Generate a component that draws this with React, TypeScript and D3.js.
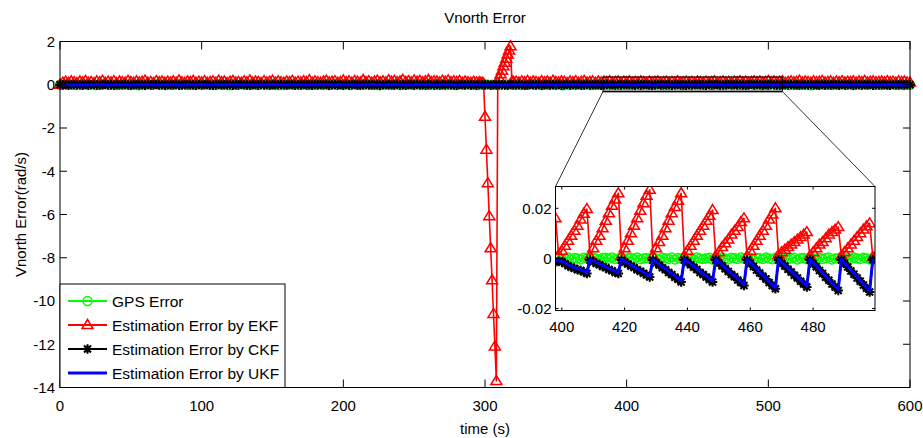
import React, { useEffect, useRef } from "react";
import * as d3 from "d3";

// ---- data ----
const mainTime = d3.range(0, 601, 5);
const ckfTime = d3.range(0, 601, 2);

const gpsMain = [
  0.0, 0.01, -0.01, 0.01, 0.0, -0.01, 0.02, 0.0, -0.01, 0.01,
  0.0, -0.02, 0.01, 0.0, 0.01, -0.01, 0.0, 0.02, -0.01, 0.0,
  0.01, 0.0, -0.01, 0.01, -0.02, 0.0, 0.01, 0.0, -0.01, 0.02,
  0.0, -0.01, 0.01, 0.0, 0.0, -0.01, 0.01, 0.02, -0.01, 0.0,
  0.01, -0.01, 0.0, 0.01, 0.0, -0.02, 0.01, 0.0, -0.01, 0.01,
  0.0, 0.01, -0.01, 0.0, 0.02, 0.0, -0.01, 0.01, 0.0, -0.01,
  0.01, 0.0, -0.01, 0.02, 0.0, -0.01, 0.0, 0.01, -0.01, 0.0,
  0.01, -0.02, 0.0, 0.01, 0.0, -0.01, 0.01, 0.0, 0.02, -0.01,
  0.0, 0.01, -0.01, 0.0, 0.01, 0.0, -0.01, 0.01, -0.02, 0.0,
  0.01, 0.0, -0.01, 0.01, 0.0, 0.02, -0.01, 0.0, 0.01, -0.01,
  0.0, 0.01, 0.0, -0.01, 0.01, 0.0, -0.02, 0.01, 0.0, -0.01,
  0.01, 0.0, -0.01, 0.0, 0.02, 0.0, -0.01, 0.01, 0.0, -0.01,
  0.0,
];

// CKF, t = 0..600 every 2 s
const ckfMain = [
  0.0, -0.01, 0.01, -0.02, 0.0, 0.01, -0.01, 0.0, -0.02, 0.01,
  -0.01, 0.0, 0.01, -0.01, -0.02, 0.0, 0.01, -0.01, 0.0, -0.02,
  0.01, -0.01, 0.0, 0.01, -0.01, -0.02, 0.0, 0.01, -0.01, 0.0,
  -0.02, 0.01, -0.01, 0.0, 0.01, -0.01, 0.0, -0.02, 0.01, -0.01,
  0.0, 0.01, -0.02, -0.01, 0.0, 0.01, -0.01, 0.0, -0.02, 0.01,
  -0.01, 0.0, 0.01, -0.01, -0.02, 0.0, 0.01, -0.01, 0.0, -0.01,
  0.01, -0.02, 0.0, -0.01, 0.01, 0.0, -0.01, -0.02, 0.01, 0.0,
  -0.01, 0.01, -0.01, 0.0, -0.02, 0.01, -0.01, 0.0, 0.01, -0.01,
  -0.01, 0.0, 0.01, -0.02, 0.0, -0.01, 0.01, -0.01, 0.0, -0.02,
  0.01, -0.01, 0.0, -0.01, 0.01, -0.02, 0.0, 0.01, -0.01, 0.0,
  -0.02, 0.01, -0.01, 0.0, 0.01, -0.01, -0.02, 0.0, 0.01, -0.01,
  0.0, -0.01, 0.01, -0.02, 0.0, 0.01, -0.01, 0.0, -0.01, 0.01,
  -0.01, 0.0, -0.02, 0.01, 0.0, -0.01, 0.01, -0.01, 0.0, -0.02,
  0.01, 0.0, -0.01, 0.01, -0.02, 0.0, -0.01, 0.01, 0.0, -0.01,
  -0.02, 0.01, 0.0, -0.01, 0.01, -0.01, 0.0, -0.02, 0.01, 0.0,
  -0.01, 0.01, -0.02, 0.0, -0.01, 0.01, 0.0, -0.01, -0.02, 0.01,
  0.0, -0.01, 0.01, 0.0, -0.02, -0.01, 0.01, 0.0, -0.01, 0.01,
  -0.02, 0.0, 0.01, -0.01, 0.0, -0.01, 0.01, -0.02, 0.0, 0.01,
  -0.01, 0.0, -0.01, 0.01, -0.02, 0.0, 0.01, -0.01, 0.0, -0.01,
  0.01, -0.02, 0.0, 0.01, -0.01, 0.0, -0.02, 0.01, -0.01, 0.0,
  0.01, -0.01, 0.0, -0.02, 0.01, -0.01, 0.0, 0.01, -0.01, -0.02,
  0.0, 0.01, -0.01, 0.0, -0.01, 0.01, -0.02, 0.0, 0.01, -0.01,
  0.0, -0.02, 0.01, -0.01, 0.0, 0.01, -0.01, 0.0, -0.02, 0.01,
  -0.01, 0.0, 0.01, -0.02, -0.01, 0.0, 0.01, -0.01, 0.0, -0.01,
  0.01, -0.01, -0.02, 0.0, 0.01, -0.01, 0.0, 0.01, -0.02, 0.0,
  -0.01, 0.01, 0.0, -0.01, -0.02, 0.01, 0.0, -0.01, 0.01, -0.01,
  0.0, -0.02, 0.01, 0.0, -0.01, 0.01, -0.01, 0.0, -0.02, 0.01,
  -0.01, 0.0, -0.01, 0.01, 0.0, -0.02, 0.01, -0.01, 0.0, 0.01,
  -0.02, 0.0, 0.01, -0.01, 0.0, -0.01, 0.01, -0.02, 0.0, -0.01,
  0.01, 0.0, -0.01, -0.02, 0.01, 0.0, -0.01, 0.01, -0.01, 0.0,
  0.0,
];

const ukfMain = [
  0.0, 0.0, -0.01, 0.0, -0.01, 0.01, 0.0, -0.01, 0.0, 0.0,
  -0.01, 0.0, 0.01, 0.0, -0.01, 0.0, 0.0, -0.01, 0.01, 0.0,
  0.0, -0.01, 0.0, 0.0, 0.01, -0.01, 0.0, 0.0, -0.01, 0.0,
  0.01, 0.0, -0.01, 0.0, 0.0, -0.01, 0.0, 0.01, 0.0, -0.01,
  0.0, 0.0, -0.01, 0.0, 0.01, 0.0, -0.01, 0.0, 0.0, -0.01,
  0.0, 0.01, 0.0, -0.01, 0.0, 0.0, -0.01, 0.0, 0.01, 0.0,
  -0.01, 0.0, 0.0, -0.01, 0.0, 0.01, 0.0, -0.01, 0.0, 0.0,
  -0.01, 0.0, 0.01, 0.0, -0.01, 0.0, 0.0, -0.01, 0.0, 0.01,
  0.0, -0.01, 0.0, 0.0, -0.01, 0.01, 0.0, -0.01, 0.0, 0.0,
  -0.01, 0.0, 0.01, 0.0, -0.01, 0.0, 0.0, -0.01, 0.01, 0.0,
  0.0, -0.01, 0.0, 0.0, 0.01, -0.01, 0.0, 0.0, -0.01, 0.0,
  0.01, 0.0, -0.01, 0.0, 0.0, -0.01, 0.0, 0.01, 0.0, -0.01,
  0.0,
];

// EKF, t = 0..294 every 2 s
const ekfBefore = [
  0.0, 0.1, 0.14, 0.09, 0.16, 0.12, 0.08, 0.15, 0.11, 0.18,
  0.1, 0.13, 0.07, 0.16, 0.12, 0.19, 0.09, 0.14, 0.11, 0.17,
  0.08, 0.15, 0.12, 0.1, 0.18, 0.13, 0.09, 0.16, 0.11, 0.14,
  0.19, 0.1, 0.13, 0.08, 0.17, 0.12, 0.15, 0.09, 0.14, 0.11,
  0.16, 0.1, 0.2, 0.12, 0.08, 0.15, 0.13, 0.18, 0.1, 0.14,
  0.11, 0.17, 0.09, 0.13, 0.16, 0.1, 0.19, 0.12, 0.15, 0.08,
  0.14, 0.18, 0.11, 0.13, 0.09, 0.16, 0.12, 0.2, 0.1, 0.15,
  0.13, 0.08, 0.17, 0.11, 0.14, 0.19, 0.1, 0.16, 0.12, 0.09,
  0.15, 0.12, 0.18, 0.1, 0.14, 0.11, 0.17, 0.13, 0.21, 0.1,
  0.16, 0.12, 0.09, 0.15, 0.19, 0.11, 0.14, 0.17, 0.1, 0.13,
  0.2, 0.12, 0.16, 0.1, 0.18, 0.14, 0.11, 0.22, 0.13, 0.17,
  0.1, 0.15, 0.19, 0.12, 0.16, 0.11, 0.21, 0.14, 0.18, 0.12,
  0.15, 0.23, 0.13, 0.17, 0.11, 0.2, 0.14, 0.18, 0.12, 0.16,
  0.22, 0.13, 0.17, 0.15, 0.11, 0.19, 0.14, 0.2, 0.12, 0.16,
  0.13, 0.18, 0.1, 0.15, 0.12, 0.09, 0.14, 0.11,
];
// EKF, t = 296..320 every 1 s (the divergence)
const ekfSpikeTime = d3.range(296, 321);
const ekfSpike = [
  0.12, 0.08, 0.1, 0.05, -1.48, -3.0, -4.55, -6.08, -7.56, -9.04,
  -10.6, -12.1, -13.7, 0.08, 0.3, 0.48, 0.65, 0.85, 1.02, 1.2,
  1.4, 1.58, 1.78, 0.15, 0.14,
];
// EKF, t = 322..600 every 2 s
const ekfAfter = [
  0.14, 0.11, 0.16, 0.12, 0.18, 0.1, 0.15, 0.13, 0.09, 0.17,
  0.12, 0.15, 0.1, 0.19, 0.13, 0.11, 0.16, 0.14, 0.08, 0.15,
  0.12, 0.17, 0.1, 0.14, 0.18, 0.11, 0.13, 0.16, 0.09, 0.15,
  0.11, 0.14, 0.12, 0.17, 0.1, 0.13, 0.15, 0.09, 0.14, 0.12,
  0.16, 0.1, 0.13, 0.11, 0.15, 0.12, 0.09, 0.14, 0.11, 0.13,
  0.15, 0.1, 0.12, 0.14, 0.09, 0.13, 0.11, 0.16, 0.1, 0.12,
  0.14, 0.11, 0.13, 0.09, 0.15, 0.12, 0.1, 0.14, 0.11, 0.13,
  0.16, 0.1, 0.12, 0.15, 0.11, 0.13, 0.09, 0.14, 0.12, 0.17,
  0.11, 0.14, 0.1, 0.13, 0.16, 0.12, 0.15, 0.1, 0.13, 0.18,
  0.12, 0.15, 0.11, 0.14, 0.17, 0.1, 0.13, 0.16, 0.12, 0.14,
  0.19, 0.11, 0.15, 0.13, 0.1, 0.16, 0.12, 0.14, 0.18, 0.11,
  0.13, 0.16, 0.1, 0.15, 0.12, 0.17, 0.11, 0.14, 0.13, 0.16,
  0.1, 0.15, 0.12, 0.18, 0.11, 0.14, 0.16, 0.12, 0.13, 0.15,
  0.11, 0.17, 0.12, 0.14, 0.1, 0.16, 0.13, 0.15, 0.11, 0.1,
];

// inset window, t = 398..500 every 1 s
const insetTime = d3.range(398, 501);
const ekfInset = [
  0.016,
  0.0015, 0.003, 0.005, 0.007, 0.009, 0.011, 0.013, 0.0155, 0.0178, 0.0197,
  0.001, 0.004, 0.007, 0.009, 0.012, 0.015, 0.018, 0.021, 0.0235, 0.026,
  0.001, 0.004, 0.007, 0.01, 0.013, 0.016, 0.019, 0.022, 0.025, 0.0274,
  0.001, 0.004, 0.0065, 0.009, 0.012, 0.015, 0.018, 0.0205, 0.023, 0.026,
  0.001, 0.003, 0.005, 0.007, 0.009, 0.011, 0.013, 0.015, 0.017, 0.0193,
  0.001, 0.0025, 0.0045, 0.006, 0.0075, 0.0095, 0.011, 0.0125, 0.0145, 0.016,
  0.001, 0.003, 0.005, 0.007, 0.009, 0.011, 0.013, 0.0155, 0.0175, 0.02,
  0.0015, 0.0025, 0.0035, 0.0045, 0.0055, 0.0065, 0.0075, 0.0085, 0.0095, 0.0105,
  0.001, 0.0025, 0.004, 0.0055, 0.0065, 0.008, 0.0095, 0.0105, 0.0115, 0.0125,
  0.001, 0.0025, 0.004, 0.0055, 0.007, 0.0085, 0.01, 0.0115, 0.0128, 0.014,
  0.0005, 0.001,
];
const ukfInset = [
  -0.0012,
  -0.0008, -0.001, -0.0017, -0.0026, -0.0031, -0.0036, -0.0041, -0.0045, -0.005, -0.0057,
  -0.0004, -0.001, -0.0016, -0.0022, -0.0028, -0.0034, -0.004, -0.0046, -0.0052, -0.0057,
  -0.0004, -0.0011, -0.0019, -0.0026, -0.0033, -0.0041, -0.0048, -0.0055, -0.0063, -0.007,
  -0.0004, -0.0014, -0.0023, -0.0033, -0.0042, -0.0052, -0.0061, -0.0071, -0.008, -0.009,
  -0.0003, -0.0012, -0.0022, -0.0031, -0.0041, -0.0052, -0.0061, -0.007, -0.0081, -0.009,
  -0.0003, -0.0014, -0.0026, -0.0037, -0.0049, -0.006, -0.007, -0.0082, -0.0093, -0.0104,
  -0.0003, -0.0016, -0.0029, -0.0042, -0.0055, -0.0067, -0.0079, -0.0092, -0.0105, -0.0117,
  -0.0003, -0.0015, -0.0027, -0.0039, -0.0051, -0.0063, -0.0075, -0.0087, -0.0099, -0.011,
  -0.0003, -0.0017, -0.003, -0.0044, -0.0057, -0.0071, -0.0084, -0.0098, -0.0111, -0.0124,
  -0.0003, -0.0017, -0.0031, -0.0046, -0.006, -0.0074, -0.0088, -0.0102, -0.0116, -0.013,
  -0.0002, -0.0006,
];
const ckfInset = [
  -0.0015,
  -0.0011, -0.0014, -0.002, -0.0029, -0.0035, -0.0039, -0.0045, -0.0048, -0.0054, -0.006,
  -0.0007, -0.0013, -0.002, -0.0025, -0.0032, -0.0037, -0.0044, -0.0049, -0.0056, -0.006,
  -0.0007, -0.0015, -0.0022, -0.003, -0.0036, -0.0045, -0.0051, -0.0059, -0.0066, -0.0074,
  -0.0007, -0.0018, -0.0026, -0.0037, -0.0045, -0.0056, -0.0064, -0.0075, -0.0083, -0.0094,
  -0.0006, -0.0016, -0.0025, -0.0035, -0.0044, -0.0056, -0.0064, -0.0074, -0.0084, -0.0094,
  -0.0006, -0.0018, -0.0029, -0.0041, -0.0052, -0.0064, -0.0073, -0.0086, -0.0096, -0.0108,
  -0.0006, -0.002, -0.0032, -0.0046, -0.0058, -0.0071, -0.0082, -0.0096, -0.0108, -0.0121,
  -0.0006, -0.0019, -0.003, -0.0043, -0.0054, -0.0067, -0.0078, -0.0091, -0.0102, -0.0114,
  -0.0006, -0.0021, -0.0033, -0.0048, -0.006, -0.0075, -0.0087, -0.0102, -0.0114, -0.0128,
  -0.0006, -0.0021, -0.0034, -0.005, -0.0063, -0.0078, -0.0091, -0.0106, -0.0119, -0.0134,
  -0.0005, -0.0009,
];
const gpsInset = [
  0.0002,
  0.0003, -0.0002, 0.0001, 0.0004, -0.0003, 0.0002, 0.0, -0.0004, 0.0003, 0.0001,
  -0.0002, 0.0004, 0.0, -0.0003, 0.0002, 0.0003, -0.0001, 0.0004, -0.0002, 0.0,
  0.0003, -0.0004, 0.0001, 0.0002, -0.0002, 0.0004, -0.0003, 0.0, 0.0002, -0.0001,
  0.0004, 0.0, -0.0003, 0.0003, 0.0001, -0.0002, 0.0004, -0.0004, 0.0002, 0.0,
  -0.0001, 0.0003, 0.0002, -0.0003, 0.0004, 0.0, -0.0002, 0.0001, 0.0003, -0.0004,
  0.0002, -0.0001, 0.0004, 0.0, -0.0003, 0.0003, 0.0001, -0.0002, 0.0004, -0.0001,
  0.0, 0.0003, -0.0004, 0.0002, 0.0001, -0.0002, 0.0004, 0.0, -0.0003, 0.0003,
  -0.0001, 0.0002, 0.0004, -0.0002, 0.0, 0.0003, -0.0004, 0.0001, 0.0002, -0.0003,
  0.0004, 0.0, -0.0001, 0.0003, -0.0002, 0.0002, 0.0004, -0.0004, 0.0, 0.0001,
  -0.0003, 0.0003, 0.0002, -0.0001, 0.0004, 0.0, -0.0002, 0.0003, 0.0001, -0.0004,
  0.0002, 0.0,
];

const xTicks = [0, 100, 200, 300, 400, 500, 600];
const yTicks = [-14, -12, -10, -8, -6, -4, -2, 0, 2];
const insetXTicks = [400, 420, 440, 460, 480];
const insetYTicks = [-0.02, 0, 0.02];
const insetYLabels = ["-0.02", "0", "0.02"];
// magnified region drawn on the main axes, in data units
const zoomBox = { t0: 383.3, t1: 509.9, v0: -0.31, v1: 0.36 };

const legendItems = [
  { label: "GPS Error", color: "#00ff00", marker: "circle" },
  { label: "Estimation Error by EKF", color: "#ff0000", marker: "triangle" },
  { label: "Estimation Error by CKF", color: "#000000", marker: "star" },
  { label: "Estimation Error by UKF", color: "#0000ff", marker: "none" },
];

const FONT = "'Liberation Sans', Arial, Helvetica, sans-serif";
const TRI = "M0,-5.5L5.5,3.5L-5.5,3.5Z";
const STAR = "M0,-4.7V4.7M-4.7,0H4.7M-3.5,-3.5L3.5,3.5M-3.5,3.5L3.5,-3.5";

type Pt = { t: number; v: number };

function drawMarkers(g: any, pts: Pt[], x: any, y: any, marker: string, color: string) {
  if (marker === "circle") {
    g.selectAll(null).data(pts).enter().append("circle")
      .attr("cx", (d: Pt) => x(d.t)).attr("cy", (d: Pt) => y(d.v))
      .attr("r", 4.5).attr("fill", "none").attr("stroke", color).attr("stroke-width", 1.5);
  } else if (marker === "triangle" || marker === "star") {
    g.selectAll(null).data(pts).enter().append("path")
      .attr("d", marker === "triangle" ? TRI : STAR)
      .attr("transform", (d: Pt) => `translate(${x(d.t)},${y(d.v)})`)
      .attr("fill", "none").attr("stroke", color).attr("stroke-width", marker === "triangle" ? 1.5 : 2.1);
  }
}

function drawSeries(g: any, pts: Pt[], x: any, y: any, color: string, width: number, marker: string) {
  const line = d3.line<Pt>().x(d => x(d.t)).y(d => y(d.v));
  g.append("path").attr("d", line(pts)).attr("fill", "none")
    .attr("stroke", color).attr("stroke-width", width).attr("stroke-linejoin", "round");
  drawMarkers(g, pts, x, y, marker, color);
}

function draw(svg: any) {
  const L = 60, R = 910, T = 41.5, B = 387.5;
  const x = d3.scaleLinear().domain([0, 600]).range([L, R]);
  const y = d3.scaleLinear().domain([-14, 2]).range([B, T]);

  svg.append("rect").attr("width", 923).attr("height", 438).attr("fill", "#fff");

  // main series
  const main = svg.append("g");
  const gpsPts = mainTime.map((t, i) => ({ t, v: gpsMain[i] }));
  const ckfPts = ckfTime.map((t, i) => ({ t, v: ckfMain[i] }));
  const ukfPts = mainTime.map((t, i) => ({ t, v: ukfMain[i] }));
  const ekfPts: Pt[] = [
    ...ekfBefore.map((v, i) => ({ t: i * 2, v })),
    ...ekfSpikeTime.map((t, i) => ({ t, v: ekfSpike[i] })),
    ...ekfAfter.map((v, i) => ({ t: 322 + i * 2, v })),
  ];
  drawSeries(main, gpsPts, x, y, "#00ff00", 2, "circle");
  drawSeries(main, ekfPts, x, y, "#ff0000", 1.6, "triangle");
  drawSeries(main, ckfPts, x, y, "#000000", 2, "star");
  drawSeries(main, ukfPts, x, y, "#0000ff", 3, "none");

  // axes box + inward ticks
  const ax = svg.append("g").attr("stroke", "#000").attr("stroke-width", 1);
  ax.append("rect").attr("x", L).attr("y", T).attr("width", R - L).attr("height", B - T).attr("fill", "none");
  xTicks.forEach(t => {
    ax.append("line").attr("x1", x(t)).attr("x2", x(t)).attr("y1", B).attr("y2", B - 8);
    ax.append("line").attr("x1", x(t)).attr("x2", x(t)).attr("y1", T).attr("y2", T + 8);
  });
  yTicks.forEach(v => {
    ax.append("line").attr("x1", L).attr("x2", L + 7).attr("y1", y(v)).attr("y2", y(v));
    ax.append("line").attr("x1", R).attr("x2", R - 7).attr("y1", y(v)).attr("y2", y(v));
  });

  const txt = svg.append("g").attr("font-family", FONT).attr("font-size", 15).attr("fill", "#000");
  xTicks.forEach(t => {
    txt.append("text").attr("x", x(t)).attr("y", B + 23).attr("text-anchor", "middle").text(String(t));
  });
  yTicks.forEach(v => {
    txt.append("text").attr("x", L - 5).attr("y", y(v)).attr("dy", "0.36em").attr("text-anchor", "end").text(String(v));
  });
  txt.append("text").attr("x", (L + R) / 2).attr("y", 23).attr("text-anchor", "middle").text("Vnorth Error");
  txt.append("text").attr("x", (L + R) / 2).attr("y", 434).attr("text-anchor", "middle").text("time (s)");
  txt.append("text").attr("transform", `translate(26,${(T + B) / 2}) rotate(-90)`)
    .attr("text-anchor", "middle").text("Vnorth Error(rad/s)");

  // magnifier box and connectors
  const iL = 555.5, iR = 875, iT = 186.5, iB = 310.5;
  const zx0 = x(zoomBox.t0), zx1 = x(zoomBox.t1), zy0 = y(zoomBox.v1), zy1 = y(zoomBox.v0);
  svg.append("line").attr("x1", zx0).attr("x2", zx1).attr("y1", zy1).attr("y2", zy1)
    .attr("stroke", "#888").attr("stroke-width", 2.5);
  svg.append("rect").attr("x", zx0).attr("y", zy0).attr("width", zx1 - zx0).attr("height", zy1 - zy0)
    .attr("fill", "none").attr("stroke", "#000").attr("stroke-width", 1);
  svg.append("line").attr("x1", zx0).attr("y1", zy1).attr("x2", iL).attr("y2", iT).attr("stroke", "#000").attr("stroke-width", 0.8);
  svg.append("line").attr("x1", zx1).attr("y1", zy1).attr("x2", iR).attr("y2", iT).attr("stroke", "#000").attr("stroke-width", 0.8);

  // inset axes
  const ix = d3.scaleLinear().domain([398, 499.7]).range([iL, iR]);
  const iy = d3.scaleLinear().domain([-0.0208, 0.0287]).range([iB, iT]);
  svg.append("rect").attr("x", iL).attr("y", iT).attr("width", iR - iL).attr("height", iB - iT).attr("fill", "#fff");
  svg.append("clipPath").attr("id", "insetClip").append("rect")
    .attr("x", iL).attr("y", iT).attr("width", iR - iL).attr("height", iB - iT);
  const ig = svg.append("g").attr("clip-path", "url(#insetClip)");
  const ins = (vals: number[]) => insetTime.map((t, i) => ({ t, v: vals[i] }));
  drawSeries(ig, ins(gpsInset), ix, iy, "#00ff00", 2, "circle");
  drawSeries(ig, ins(ekfInset), ix, iy, "#ff0000", 1.6, "triangle");
  drawSeries(ig, ins(ckfInset), ix, iy, "#000000", 2, "star");
  drawSeries(ig, ins(ukfInset), ix, iy, "#0000ff", 3, "none");

  const iax = svg.append("g").attr("stroke", "#000").attr("stroke-width", 1);
  iax.append("rect").attr("x", iL).attr("y", iT).attr("width", iR - iL).attr("height", iB - iT).attr("fill", "none");
  insetXTicks.forEach(t => {
    iax.append("line").attr("x1", ix(t)).attr("x2", ix(t)).attr("y1", iB).attr("y2", iB - 3);
    iax.append("line").attr("x1", ix(t)).attr("x2", ix(t)).attr("y1", iT).attr("y2", iT + 3);
    txt.append("text").attr("x", ix(t)).attr("y", iB + 21).attr("text-anchor", "middle").text(String(t));
  });
  insetYTicks.forEach((v, i) => {
    iax.append("line").attr("x1", iL).attr("x2", iL + 3).attr("y1", iy(v)).attr("y2", iy(v));
    iax.append("line").attr("x1", iR).attr("x2", iR - 3).attr("y1", iy(v)).attr("y2", iy(v));
    txt.append("text").attr("x", iL - 4).attr("y", iy(v)).attr("dy", "0.36em").attr("text-anchor", "end").text(insetYLabels[i]);
  });

  // legend
  const lg = svg.append("g");
  lg.append("rect").attr("x", L).attr("y", 284).attr("width", 225).attr("height", B - 284)
    .attr("fill", "#fff").attr("stroke", "#000").attr("stroke-width", 1);
  legendItems.forEach((it, i) => {
    const yy = 301 + i * 24;
    lg.append("line").attr("x1", 68).attr("x2", 107).attr("y1", yy).attr("y2", yy)
      .attr("stroke", it.color).attr("stroke-width", it.marker === "none" ? 3 : 2);
    const lx = d3.scaleLinear().domain([0, 1]).range([87.5, 88.5]);
    const ly = d3.scaleLinear().domain([0, 1]).range([yy, yy + 1]);
    drawMarkers(lg, [{ t: 0, v: 0 }], lx, ly, it.marker, it.color);
    lg.append("text").attr("x", 112).attr("y", yy).attr("dy", "0.36em")
      .attr("font-family", FONT).attr("font-size", 15.5).text(it.label);
  });
}

export default function App() {
  const ref = useRef<SVGSVGElement>(null);
  useEffect(() => {
    const svg = d3.select(ref.current);
    svg.selectAll("*").remove();
    draw(svg);
  }, []);
  return (
    <svg ref={ref} width={923} height={438}
      style={{ position: "absolute", left: 0, top: 0, display: "block" }} />
  );
}
